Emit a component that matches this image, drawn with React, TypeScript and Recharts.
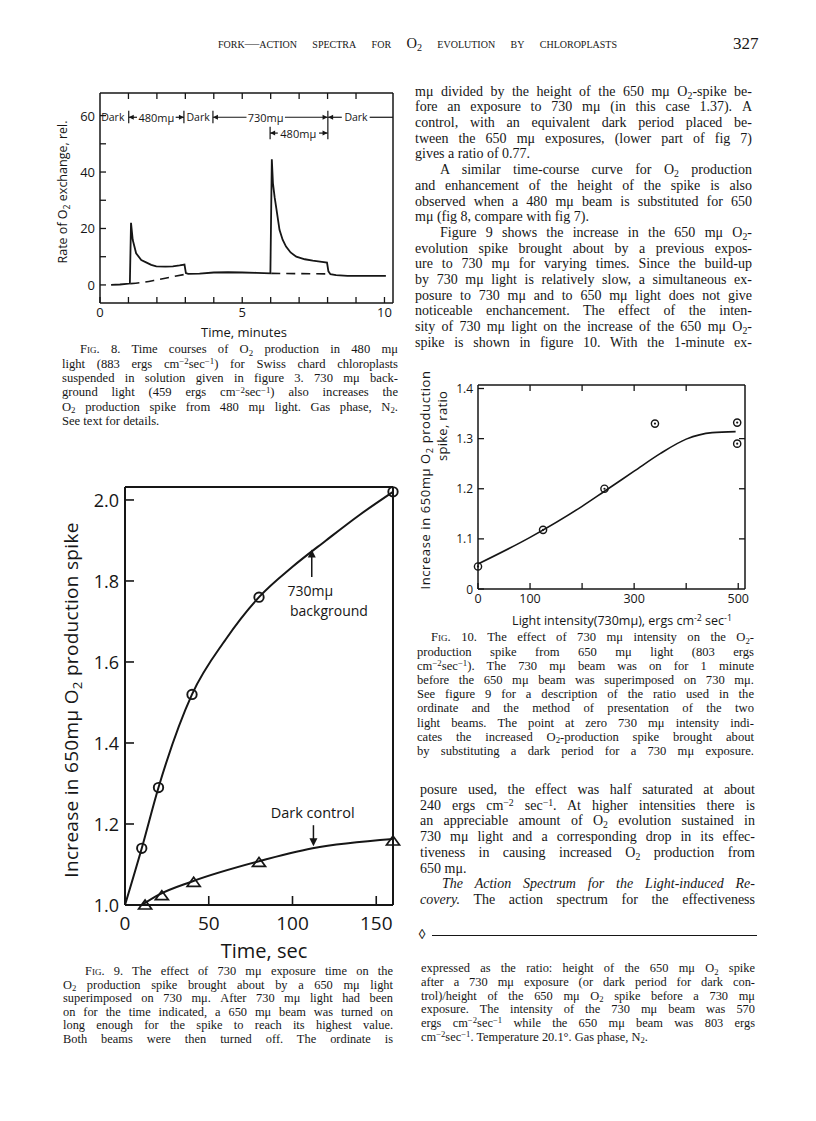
import React from 'react';
import { ComposedChart, Line, Scatter, XAxis, YAxis, ReferenceLine, ReferenceDot } from 'recharts';

const INK = '#161616';
const SANS = '"Open Sans", "DejaVu Sans", sans-serif';
const SERIF = '"Liberation Serif", "DejaVu Serif", serif';

// Fig. 8 - rate of O2 exchange (rel.) against time (minutes)
const fig8Minutes = [0.39, 0.7, 1.05, 1.09, 1.15, 1.27, 1.45, 1.62, 1.8, 1.98, 2.3, 2.56, 2.8, 2.97, 3.02, 3.1, 3.5, 4.0, 4.5, 5.0, 5.5, 5.99, 6.04, 6.08, 6.14, 6.2, 6.31, 6.42, 6.54, 6.7, 6.9, 7.2, 7.48, 7.8, 7.98, 8.03, 8.1, 8.3, 8.7, 9.2, 10.05];
const fig8Rate = [0, 0.15, 0.5, 22, 16, 11.2, 8.8, 8.0, 7.1, 6.6, 6.5, 6.6, 6.9, 7.2, 4.2, 3.9, 4.0, 4.4, 4.5, 4.4, 4.3, 4.1, 44.5, 36, 31, 27, 19.5, 16, 13.6, 11.5, 10.0, 9.1, 8.6, 8.2, 7.9, 4.8, 3.8, 3.5, 3.2, 3.2, 3.2];
const fig8BaseMinutesA = [1.07, 1.5, 2.0, 2.5, 3.02];
const fig8BaseRateA = [0.45, 0.9, 1.8, 2.8, 3.8];
const fig8BaseMinutesB = [6.02, 7.0, 8.03];
const fig8BaseRateB = [4.1, 4.0, 3.9];
const fig8MinuteTicks = [0, 1, 2, 3, 4, 5, 6, 7, 8, 9, 10];
const fig8RateTicks = [0, 10, 20, 30, 40, 50, 60];

// Fig. 9 - increase in spike against 730 mu exposure time (sec)
const fig9BgTime = [10, 20, 40, 80, 160];
const fig9BgRatio = [1.14, 1.29, 1.52, 1.76, 2.02];
const fig9DarkTime = [12, 22, 41, 80, 160];
const fig9DarkRatio = [1.0, 1.023, 1.056, 1.105, 1.158];
const fig9BgCurveTime = [0, 10, 20, 40, 60, 80, 100, 120, 140, 160];
const fig9BgCurveRatio = [1.0, 1.14, 1.29, 1.52, 1.655, 1.76, 1.835, 1.9, 1.963, 2.02];
const fig9DarkCurveTime = [10, 20, 40, 80, 112, 160];
const fig9DarkCurveRatio = [1.0, 1.025, 1.058, 1.108, 1.14, 1.163];
const fig9TimeTicks = [0, 50, 100, 150];
const fig9RatioTicks = [1.0, 1.2, 1.4, 1.6, 1.8, 2.0];

// Fig. 10 - increase in spike against 730 mu intensity
const fig10Intensity = [0, 125, 243, 340, 498, 498];
const fig10Ratio = [1.045, 1.118, 1.2, 1.33, 1.332, 1.29];
const fig10CurveIntensity = [0, 100, 200, 243, 300, 350, 400, 450, 495];
const fig10CurveRatio = [1.05, 1.103, 1.165, 1.195, 1.235, 1.27, 1.299, 1.312, 1.314];
const fig10IntensityTicks = [0, 100, 200, 300, 400, 500];
const fig10RatioTicks = [1.0, 1.1, 1.2, 1.3, 1.4];

const pts = (xs: number[], ys: number[]) => xs.map((x, i) => ({ x, y: ys[i] }));

type Side = 'left' | 'right' | 'top' | 'bottom';
// ticks drawn inside the frame, label outside
function inTick(side: Side, gap: number, len: number, size: number, fmt?: (v: number) => string, w = 1.3) {
  return (p: any) => {
    const { x, y, payload } = p;
    const label = fmt ? fmt(payload.value) : '';
    const ls = { stroke: INK, strokeWidth: w };
    const ts = { fontSize: size, fontFamily: SANS, fill: INK };
    if (side === 'left') {
      const ax = x + gap;
      return (
        <g>
          <line x1={ax} x2={ax + len} y1={y} y2={y} {...ls} />
          {label && <text x={x} y={y} textAnchor="end" dominantBaseline="central" {...ts}>{label}</text>}
        </g>
      );
    }
    if (side === 'right') {
      const ax = x - gap;
      return <line x1={ax} x2={ax - len} y1={y} y2={y} {...ls} />;
    }
    if (side === 'top') {
      const ay = y + gap;
      return <line x1={x} x2={x} y1={ay} y2={ay + len} {...ls} />;
    }
    const ay = y - gap;
    return (
      <g>
        <line x1={x} x2={x} y1={ay} y2={ay - len} {...ls} />
        {label && <text x={x} y={y} dy="0.74em" textAnchor="middle" {...ts}>{label}</text>}
      </g>
    );
  };
}

const arrowShape = (dir: 'l' | 'r' | 'u' | 'd', s = 5) => (p: any) => {
  const { cx, cy } = p;
  const h = s / 2;
  const d =
    dir === 'l' ? `M${cx},${cy}l${s},${-h}v${s}z`
    : dir === 'r' ? `M${cx},${cy}l${-s},${-h}v${s}z`
    : dir === 'u' ? `M${cx},${cy}l${-h},${s}h${s}z`
    : `M${cx},${cy}l${-h},${-s}h${s}z`;
  return <path d={d} fill={INK} />;
};

const textShape = (txt: string, size: number, anchor: 'start' | 'middle' = 'middle') => (p: any) => (
  <text x={p.cx} y={p.cy} textAnchor={anchor} dominantBaseline="central" fontSize={size} fontFamily={SANS} fill={INK}>
    {txt}
  </text>
);

const ringShape = (r: number, w: number, dot: boolean) => (p: any) => (
  <g>
    <circle cx={p.cx} cy={p.cy} r={r} fill="none" stroke={INK} strokeWidth={w} />
    {dot && <circle cx={p.cx} cy={p.cy} r={1.1} fill={INK} />}
  </g>
);

const triShape = (p: any) => (
  <path d={`M${p.cx},${p.cy - 5}L${p.cx + 6.5},${p.cy + 4}L${p.cx - 6.5},${p.cy + 4}Z`} fill="none" stroke={INK} strokeWidth={1.7} strokeLinejoin="miter" />
);

const seg = (k: string, x1: number, y1: number, x2: number, y2: number, w = 1.2) => (
  <ReferenceLine key={k} segment={[{ x: x1, y: y1 }, { x: x2, y: y2 }]} stroke={INK} strokeWidth={w} ifOverflow="visible" />
);
const mark = (k: string, x: number, y: number, shape: any) => (
  <ReferenceDot key={k} x={x} y={y} r={0} shape={shape} ifOverflow="visible" />
);

// invisible copy of a series so that the top / right frame axes get a scale
const frameCarrier = (data: { x: number; y: number }[]) => (
  <Line xAxisId="top" yAxisId="right" data={data} dataKey="y" stroke="none" dot={false} activeDot={false} legendType="none" isAnimationActive={false} />
);

function Fig8() {
  const frame = { stroke: INK, strokeWidth: 1.5 };
  const r1 = 59.4;
  const r2 = 53.8;
  const solid = pts(fig8Minutes, fig8Rate);
  const notes = [
    mark('t1', 0.45, r1, textShape('Dark', 10.5)),
    seg('b1', 1.01, 57.3, 1.01, 61.7),
    seg('l1', 1.01, r1, 1.3, r1),
    mark('a1', 1.01, r1, arrowShape('l')),
    mark('t2', 1.98, r1, textShape('480mμ', 11)),
    seg('l2', 2.66, r1, 2.95, r1),
    mark('a2', 2.95, r1, arrowShape('r')),
    seg('b2', 2.95, 57.3, 2.95, 61.7),
    mark('t3', 3.45, r1, textShape('Dark', 10.5)),
    seg('b3', 3.97, 57.3, 3.97, 61.7),
    seg('l3', 3.97, r1, 5.15, r1),
    mark('a3', 3.97, r1, arrowShape('l')),
    mark('t4', 5.82, r1, textShape('730mμ', 11)),
    seg('l4', 6.5, r1, 8.0, r1),
    mark('a4', 8.0, r1, arrowShape('r')),
    seg('b4', 8.01, 51.6, 8.01, 61.7),
    seg('l5', 8.02, r1, 8.5, r1),
    mark('a5', 8.02, r1, arrowShape('l')),
    mark('t5', 9.0, r1, textShape('Dark', 10.5)),
    seg('l6', 9.48, r1, 10.3, r1),
    seg('b5', 5.98, 51.6, 5.98, 56.0),
    seg('l7', 5.98, r2, 6.25, r2),
    mark('a6', 5.98, r2, arrowShape('l')),
    mark('t6', 6.97, r2, textShape('480mμ', 11)),
    seg('l8', 7.7, r2, 8.0, r2),
    mark('a7', 8.0, r2, arrowShape('r')),
  ];
  return (
    <ComposedChart width={380} height={280} margin={{ top: 12, right: 16, bottom: 27, left: 30 }}>
      <XAxis type="number" dataKey="x" domain={[0, 10.3]} ticks={fig8MinuteTicks} interval={0} height={30} tickSize={0} tickMargin={4} tickLine={false} axisLine={frame} tick={inTick('bottom', 4, 6, 13, (v) => (v % 5 === 0 ? String(v) : ''))} />
      <XAxis xAxisId="top" orientation="top" type="number" dataKey="x" domain={[0, 10.3]} ticks={fig8MinuteTicks.slice(1, 10)} interval={0} height={1} tickSize={0} tickMargin={0} tickLine={false} axisLine={frame} tick={inTick('top', 0, 6, 13)} />
      <YAxis type="number" dataKey="y" domain={[-6.4, 68]} ticks={fig8RateTicks} interval={0} width={40} tickSize={0} tickMargin={5} tickLine={false} axisLine={frame} tick={inTick('left', 5, 6, 13, (v) => (v % 20 === 0 ? String(v) : ''))} />
      <YAxis yAxisId="right" orientation="right" type="number" dataKey="y" domain={[-6.4, 68]} width={1} tick={false} tickLine={false} axisLine={frame} />
      {frameCarrier(solid)}
      <Line data={solid} dataKey="y" type="linear" stroke={INK} strokeWidth={1.8} dot={false} isAnimationActive={false} />
      <Line data={pts(fig8BaseMinutesA, fig8BaseRateA)} dataKey="y" type="monotone" stroke={INK} strokeWidth={1.6} strokeDasharray="9 6" dot={false} isAnimationActive={false} />
      <Line data={pts(fig8BaseMinutesB, fig8BaseRateB)} dataKey="y" type="monotone" stroke={INK} strokeWidth={1.6} strokeDasharray="9 6" dot={false} isAnimationActive={false} />
      {notes}
    </ComposedChart>
  );
}

function Fig9() {
  const frame = { stroke: INK, strokeWidth: 2 };
  const bgCurve = pts(fig9BgCurveTime, fig9BgCurveRatio);
  return (
    <ComposedChart width={380} height={480} margin={{ top: 16, right: 16, bottom: 10, left: 50 }}>
      <XAxis type="number" dataKey="x" domain={[0, 160]} ticks={fig9TimeTicks} interval={0} height={35} tickSize={0} tickMargin={11} tickLine={false} axisLine={frame} tick={inTick('bottom', 11, 9, 19, (v) => String(v), 1.6)} />
      <XAxis xAxisId="top" orientation="top" type="number" dataKey="x" domain={[0, 160]} height={1} tick={false} tickLine={false} axisLine={frame} />
      <YAxis type="number" dataKey="y" domain={[1, 2.032]} ticks={fig9RatioTicks} interval={0} width={45} tickSize={0} tickMargin={6} tickLine={false} axisLine={frame} tick={inTick('left', 6, 9, 18, (v) => v.toFixed(1), 1.6)} />
      <YAxis yAxisId="right" orientation="right" type="number" dataKey="y" domain={[1, 2.032]} width={1} tick={false} tickLine={false} axisLine={frame} />
      {frameCarrier(bgCurve)}
      <Line data={bgCurve} dataKey="y" type="monotone" stroke={INK} strokeWidth={2} dot={false} isAnimationActive={false} />
      <Line data={pts(fig9DarkCurveTime, fig9DarkCurveRatio)} dataKey="y" type="monotone" stroke={INK} strokeWidth={2} dot={false} isAnimationActive={false} />
      <Scatter data={pts(fig9BgTime, fig9BgRatio)} shape={ringShape(4.7, 1.9, false)} isAnimationActive={false} />
      <Scatter data={pts(fig9DarkTime, fig9DarkRatio)} shape={triShape} isAnimationActive={false} />
      {seg('ar1', 111.5, 1.81, 111.5, 1.87, 1.5)}
      {mark('ah1', 111.5, 1.878, arrowShape('u', 8))}
      {mark('tx1', 97, 1.777, textShape('730mμ', 14, 'start'))}
      {mark('tx2', 98.5, 1.727, textShape('background', 14, 'start'))}
      {mark('tx3', 112, 1.228, textShape('Dark control', 14.5))}
      {seg('ar2', 112.5, 1.197, 112.5, 1.155, 1.5)}
      {mark('ah2', 112.5, 1.145, arrowShape('d', 8))}
    </ComposedChart>
  );
}

function Fig10() {
  const frame = { stroke: INK, strokeWidth: 1.5 };
  const curve = pts(fig10CurveIntensity, fig10CurveRatio);
  return (
    <ComposedChart width={370} height={250} margin={{ top: 14, right: 24, bottom: 11, left: 48 }}>
      <XAxis type="number" dataKey="x" domain={[0, 513]} ticks={fig10IntensityTicks} interval={0} height={20} tickSize={0} tickMargin={5} tickLine={false} axisLine={frame} tick={inTick('bottom', 5, 6, 12.5, (v) => (v === 200 || v === 400 ? '' : String(v)))} />
      <XAxis xAxisId="top" orientation="top" type="number" dataKey="x" domain={[0, 513]} ticks={fig10IntensityTicks.slice(1, 5)} interval={0} height={1} tickSize={0} tickMargin={0} tickLine={false} axisLine={frame} tick={inTick('top', 0, 6, 12)} />
      <YAxis type="number" dataKey="y" domain={[1, 1.407]} ticks={fig10RatioTicks} interval={0} width={30} tickSize={0} tickMargin={5} tickLine={false} axisLine={frame} tick={inTick('left', 5, 6, 12, (v) => (Math.abs(v - 1) < 1e-9 ? '0' : v.toFixed(1)))} />
      <YAxis yAxisId="right" orientation="right" type="number" dataKey="y" domain={[1, 1.407]} ticks={fig10RatioTicks.slice(1, 4)} interval={0} width={1} tickSize={0} tickMargin={0} tickLine={false} axisLine={frame} tick={inTick('right', 0, 6, 12)} />
      {frameCarrier(curve)}
      <Line data={curve} dataKey="y" type="monotone" stroke={INK} strokeWidth={1.6} dot={false} isAnimationActive={false} />
      <Scatter data={pts(fig10Intensity, fig10Ratio)} shape={ringShape(3.6, 1.4, true)} isAnimationActive={false} />
    </ComposedChart>
  );
}

// {_x} subscript, {^x} superscript, {~x} small caps, {/x} italic
function rich(s: string) {
  const out: React.ReactNode[] = [];
  const re = /\{([_^~\/])([^}]*)\}/g;
  let last = 0;
  let k = 0;
  let m: RegExpExecArray | null;
  while ((m = re.exec(s))) {
    if (m.index > last) out.push(s.slice(last, m.index));
    const st: React.CSSProperties =
      m[1] === '_' ? { fontSize: '0.7em', position: 'relative', top: '0.3em', lineHeight: 0 }
      : m[1] === '^' ? { fontSize: '0.7em', position: 'relative', top: '-0.42em', lineHeight: 0 }
      : m[1] === '~' ? { fontVariant: 'small-caps' }
      : { fontStyle: 'italic' };
    out.push(<span key={k++} style={st}>{m[2]}</span>);
    last = re.lastIndex;
  }
  if (last < s.length) out.push(s.slice(last));
  return out;
}

// '>' at start = indented line, '|' at end = not justified
function Block({ x, y, step, w, size, indent, lines }: any) {
  return (
    <>
      {lines.map((raw: string, i: number) => {
        const ind = raw.startsWith('>');
        const last = raw.endsWith('|');
        const s = raw.replace(/^>/, '').replace(/\|$/, '');
        return (
          <div key={i} style={{ position: 'absolute', left: x, top: y + i * step - size * 0.62, width: w, height: size, paddingLeft: ind ? indent : 0, boxSizing: 'border-box', fontFamily: SERIF, fontSize: size, lineHeight: `${size}px`, color: INK, textAlign: 'justify', textAlignLast: last ? 'left' : 'justify' }}>
            {rich(s)}
          </div>
        );
      })}
    </>
  );
}

function Title({ x, y, size, text, vertical = false, spacing = 0 }: any) {
  return (
    <div style={{ position: 'absolute', left: x, top: y, transform: vertical ? 'translate(-50%, -50%) rotate(-90deg)' : 'translate(-50%, -50%)', whiteSpace: 'nowrap', fontFamily: SANS, fontSize: size, letterSpacing: spacing, lineHeight: 1, color: INK }}>
      {rich(text)}
    </div>
  );
}

const bodyTop = [
  'mμ divided by the height of the 650 mμ O{_2}-spike be-',
  'fore an exposure to 730 mμ (in this case 1.37).  A',
  'control, with an equivalent dark period placed be-',
  'tween the 650 mμ exposures, (lower part of fig 7)',
  'gives a ratio of 0.77.|',
  '>A similar time-course curve for O{_2} production',
  'and enhancement of the height of the spike is also',
  'observed when a 480 mμ beam is substituted for 650',
  'mμ (fig 8, compare with fig 7).|',
  '>Figure 9 shows the increase in the 650 mμ O{_2}-',
  'evolution spike brought about by a previous expos-',
  'ure to 730 mμ for varying times.  Since the build-up',
  'by 730 mμ light is relatively slow, a simultaneous ex-',
  'posure to 730 mμ and to 650 mμ light does not give',
  'noticeable enchancement.  The effect of the inten-',
  'sity of 730 mμ light on the increase of the 650 mμ O{_2}-',
  'spike is shown in figure 10.  With the 1-minute ex-',
];
const bodyBottom = [
  'posure used, the effect was half saturated at about',
  '240 ergs cm{^−2} sec{^−1}.  At higher intensities there is',
  'an appreciable amount of O{_2} evolution sustained in',
  '730 mμ light and a corresponding drop in its effec-',
  'tiveness in causing increased O{_2} production from',
  '650 mμ.|',
  '>{/The Action Spectrum for the Light-induced Re-}',
  '{/covery.}  The action spectrum for the effectiveness',
];
const capFig8 = [
  '>F{~ig}. 8.  Time courses of O{_2} production in 480 mμ',
  'light (883 ergs cm{^−2}sec{^−1}) for Swiss chard chloroplasts',
  'suspended in solution given in figure 3.  730 mμ back-',
  'ground light (459 ergs cm{^−2}sec{^−1}) also increases the',
  'O{_2} production spike from 480 mμ light.  Gas phase, N{_2}.',
  'See text for details.|',
];
const capFig9 = [
  '>F{~ig}. 9.  The effect of 730 mμ exposure time on the',
  'O{_2} production spike brought about by a 650 mμ light',
  'superimposed on 730 mμ.  After 730 mμ light had been',
  'on for the time indicated, a 650 mμ beam was turned on',
  'long enough for the spike to reach its highest value.',
  'Both beams were then turned off.  The ordinate is',
];
const capFig10 = [
  '>F{~ig}. 10.  The effect of 730 mμ intensity on the O{_2}-',
  'production spike from 650 mμ light (803 ergs',
  'cm{^−2}sec{^−1}).  The 730 mμ beam was on for 1 minute',
  'before the 650 mμ beam was superimposed on 730 mμ.',
  'See figure 9 for a description of the ratio used in the',
  'ordinate and the method of presentation of the two',
  'light beams.  The point at zero 730 mμ intensity indi-',
  'cates the increased O{_2}-production spike brought about',
  'by substituting a dark period for a 730 mμ exposure.',
];
const capFig9End = [
  'expressed as the ratio: height of the 650 mμ O{_2} spike',
  'after a 730 mμ exposure (or dark period for dark con-',
  'trol)/height of the 650 mμ O{_2} spike before a 730 mμ',
  'exposure.  The intensity of the 730 mμ beam was 570',
  'ergs cm{^−2}sec{^−1} while the 650 mμ beam was 803 ergs',
  'cm{^−2}sec{^−1}.  Temperature 20.1°.  Gas phase, N{_2}.|',
];

export default function App() {
  return (
    <div style={{ position: 'absolute', left: 0, top: 0, width: 816, height: 1121, background: '#fff', overflow: 'hidden', color: INK }}>
      <div style={{ position: 'absolute', left: 218, top: 36, width: 399, fontFamily: SERIF, fontSize: 14.5, lineHeight: '15px', fontVariant: 'small-caps', textAlign: 'justify', textAlignLast: 'justify' }}>
        fork—action spectra for O<span style={{ fontSize: '0.7em', position: 'relative', top: '0.32em' }}>2</span> evolution by chloroplasts
      </div>
      <div style={{ position: 'absolute', left: 733, top: 35, fontFamily: SERIF, fontSize: 17, lineHeight: '17px' }}>327</div>

      <div style={{ position: 'absolute', left: 30, top: 80 }}><Fig8 /></div>
      <Title x={63} y={192} size={12.5} text="Rate of O{_2} exchange, rel." vertical />
      <Title x={244} y={332} size={13} text="Time, minutes" />
      <Block x={62} y={351} step={14.4} w={336} size={12.6} indent={18} lines={capFig8} />

      <div style={{ position: 'absolute', left: 30, top: 470 }}><Fig9 /></div>
      <Title x={71} y={700} size={19} spacing={0.3} text="Increase in 650mμ  O{_2}  production  spike" vertical />
      <Title x={264} y={951} size={20} text="Time, sec" />
      <Block x={63} y={972.7} step={13.5} w={330} size={12.4} indent={22} lines={capFig9} />

      <Block x={415} y={93.3} step={15.7} w={337} size={14} indent={25} lines={bodyTop} />

      <div style={{ position: 'absolute', left: 400, top: 370 }}><Fig10 /></div>
      <Title x={425} y={480} size={13} spacing={0.6} text="Increase in 650mμ  O{_2}  production" vertical />
      <Title x={442} y={426} size={13} spacing={0.3} text="spike, ratio" vertical />
      <Title x={622} y={621} size={12.5} text="Light intensity(730mμ), ergs  cm{^-2}  sec{^-1}" />
      <Block x={417} y={639.3} step={14.17} w={337} size={12.6} indent={14} lines={capFig10} />

      <Block x={420} y={791.7} step={15.7} w={335} size={14} indent={22} lines={bodyBottom} />

      <div style={{ position: 'absolute', left: 418, top: 926, fontFamily: SANS, fontSize: 14, lineHeight: '16px' }}>◊</div>
      <div style={{ position: 'absolute', left: 432, top: 935, width: 325, height: 0, borderTop: `1px solid ${INK}` }} />

      <Block x={421} y={970} step={13.65} w={334} size={12.4} indent={0} lines={capFig9End} />
    </div>
  );
}
